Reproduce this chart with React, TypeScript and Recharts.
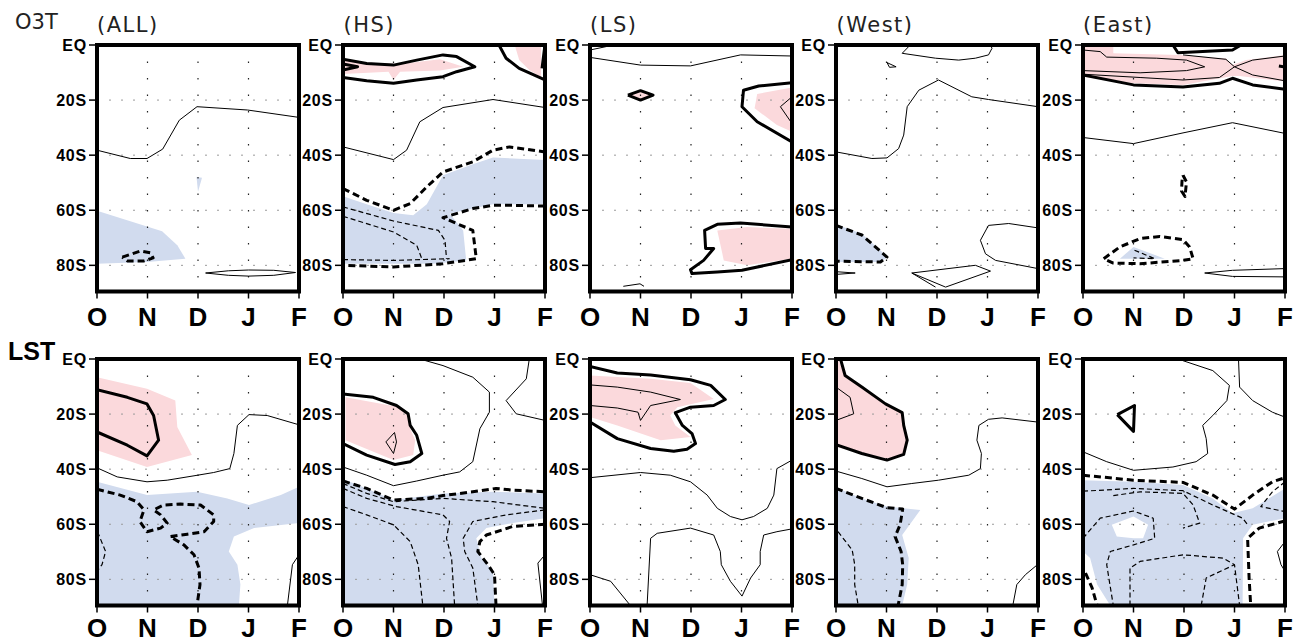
import { CartesianGrid, ReferenceArea, Scatter, ScatterChart, XAxis, YAxis } from 'recharts'

type Pt = [number, number]
type Field = {
  pink?: Pt[][]
  blue?: Pt[][]
  white?: Pt[][]
  thin?: Pt[][]
  thinDash?: Pt[][]
  thick?: Pt[][]
  thickDash?: Pt[][]
}

// x: months after 1 Oct (O=0 ... F=4), y: latitude (negative = south)
const MONTH_TICKS = [0, 1, 2, 3, 4]
const MONTH_LABELS = ['O', 'N', 'D', 'J', 'F']
const LAT_TICKS = [0, -20, -40, -60, -80]
const LAT_LABELS = ['EQ', '20S', '40S', '60S', '80S']
const LAT_MIN = -89.5

const PANEL_TITLES = ['(ALL)', '(HS)', '(LS)', '(West)', '(East)']
const ROW_LABELS = ['O3T', 'LST']

// ---- O3T row ----
const o3tAll: Field = {
  blue: [
    [[0, -60.2], [1.29, -67.6], [1.59, -72.7], [1.75, -77.6], [0.99, -78.8], [0, -79.4]],
    [[1.97, -47.9], [2.08, -48.2], [2.0, -53.3]],
  ],
  thin: [
    [[0, -38.2], [0.66, -41.2], [0.99, -41.2], [1.3, -37.8], [1.63, -27.3], [1.98, -22.4], [2.98, -23.6], [4, -26.3]],
    [[2.15, -82.8], [2.6, -82.0], [3.0, -81.7], [3.5, -81.8], [3.93, -82.6], [3.5, -83.6], [3.0, -83.9], [2.6, -83.6], [2.15, -82.8]],
  ],
  thickDash: [
    [[0.5, -77.0], [0.86, -74.8], [1.06, -75.5], [1.11, -77.3], [0.93, -78.4], [0.6, -78.4], [0.5, -77.0]],
  ],
}

const o3tHS: Field = {
  pink: [
    [[0, -4.8], [0.47, -6.4], [1.13, -6.9], [1.92, -5.2], [2.38, -7.9], [1.92, -9.3], [1.13, -9.7], [1.0, -12.7], [0.9, -9.7], [0, -10.5]],
    [[3.4, 0], [3.92, 0], [3.92, -11.8], [3.69, -9.1], [3.49, -5.5]],
  ],
  blue: [
    [[0, -54.9], [0.47, -57.8], [1.0, -61.0], [1.39, -61.8], [1.66, -57.8], [1.98, -47.3], [2.57, -43.3], [2.97, -40.8], [4, -41.8], [4, -57.8], [2.97, -57.8], [2.11, -61.2], [2.38, -67.3], [2.44, -78.2], [1.79, -79.4], [0, -79.4]],
  ],
  thick: [
    [[0, -5.2], [0.47, -6.7], [1.0, -7.3], [1.46, -5.5], [1.98, -3.6], [2.25, -4.2], [2.61, -7.9], [2.25, -9.7], [1.98, -11.5], [1.46, -12.7], [1.0, -13.9], [0.47, -13.0], [0, -11.8]],
    [[0, -6.9], [0.29, -7.9], [0, -9.1]],
    [[3.09, 0], [3.23, -4.8], [3.49, -8.5], [4, -12.7]],
    [[3.94, -8.5], [4, 0]],
  ],
  thin: [
    [[0, -37.0], [1.0, -41.6], [1.26, -38.2], [1.52, -27.9], [1.98, -22.7], [2.97, -19.8], [4, -22.7]],
  ],
  thickDash: [
    [[0, -52.1], [0.47, -56.4], [1.0, -60.0], [1.33, -57.6], [1.66, -51.5], [1.98, -46.1], [2.57, -42.4], [2.97, -38.2], [3.3, -37.0], [4, -38.8]],
    [[4, -58.5], [3.36, -58.2], [2.97, -58.2], [2.57, -59.4], [1.98, -62.7], [2.57, -67.3], [2.64, -77.6], [1.98, -79.4], [1.0, -80.6], [0, -80.0]],
  ],
  thinDash: [
    [[0, -58.8], [1.0, -63.9], [1.89, -67.3], [2.02, -70.9], [2.05, -77.6]],
    [[0, -62.2], [1.0, -67.9], [1.46, -72.7], [1.56, -77.6]],
    [[0, -77.9], [1.0, -78.2], [2.11, -77.6]],
  ],
}

const o3tLS: Field = {
  pink: [
    [[0.75, -18.2], [1.0, -16.6], [1.25, -18.2], [1.0, -20.0]],
    [[4, -15.4], [3.31, -17.8], [3.26, -23.0], [3.7, -29.1], [4, -31.5]],
    [[4, -66.7], [3.11, -66.1], [2.52, -67.3], [2.65, -78.2], [3.11, -80.0], [4, -77.6]],
  ],
  thin: [
    [[0, -1.8], [0.47, 0]],
    [[0, -4.5], [1.0, -7.3], [1.99, -7.6], [2.98, -3.6], [4, -4.0]],
    [[4, -18.8], [3.77, -22.4], [4, -28.5]],
    [[0.66, -87.6], [0.99, -86.7], [1.07, -87.6]],
  ],
  thick: [
    [[0.75, -18.2], [1.0, -16.6], [1.25, -18.2], [1.0, -20.0], [0.75, -18.2]],
    [[4, -13.7], [3.34, -14.9], [3.04, -16.4], [3.01, -22.4], [3.31, -27.9], [4, -35.2]],
    [[4, -66.1], [2.98, -64.6], [2.52, -65.1], [2.27, -67.3], [2.29, -73.9], [2.45, -73.9], [2.25, -78.2], [1.99, -81.6], [2.02, -83.0], [2.52, -82.4], [3.01, -81.8], [4, -77.9]],
  ],
}

const o3tWest: Field = {
  blue: [[[0, -65.1], [0.51, -68.5], [1.03, -77.0], [0.88, -78.8], [0, -78.8]]],
  thickDash: [[[0, -65.5], [0.51, -69.0], [1.01, -77.0], [0.88, -78.8], [0, -78.5]]],
  thin: [
    [[1.47, 0], [1.31, -3.0], [1.97, -4.8], [2.43, -5.5], [2.76, -4.8], [3.02, -3.6], [3.09, -1.2], [3.06, 0]],
    [[1.01, -6.4], [1.19, -7.9], [1.06, -8.1], [1.01, -6.4]],
    [[0, -38.8], [0.71, -41.2], [1.01, -41.0], [1.24, -37.6], [1.34, -32.7], [1.41, -22.4], [1.64, -16.4], [2.03, -12.7], [2.69, -18.8], [3.02, -19.8], [4, -22.4]],
    [[0, -82.3], [0.38, -82.8], [0, -83.3]],
    [[4, -66.4], [3.42, -64.8], [3.02, -65.5], [2.86, -70.9], [2.96, -75.8], [3.16, -78.2], [4, -81.2]],
    [[1.5, -82.8], [2.76, -80.0], [3.06, -82.1], [2.17, -87.9], [1.5, -82.8], [1.97, -87.9]],
  ],
}

const o3tEast: Field = {
  pink: [
    [[0, 0], [0.6, 0], [0.6, -3.0], [1.91, -3.6], [2.83, -4.8], [2.96, -7.3], [3.23, -5.5], [4, -3.6], [4, -13.3], [3.1, -11.3], [2.96, -11.3], [1.98, -14.5], [1.0, -13.9], [0, -11.5]],
  ],
  blue: [[[0.73, -77.6], [1.0, -73.3], [1.62, -77.6]]],
  thick: [
    [[1.78, 0], [1.88, -2.8], [2.96, -1.8], [3.13, 0]],
    [[0, -10.9], [1.0, -14.5], [1.98, -15.2], [2.7, -13.9], [2.96, -12.1], [3.36, -14.5], [4, -16.1]],
    [[3.88, -7.6], [4, -8.0]],
  ],
  thin: [
    [[0, -1.8], [0.34, -2.4], [0.47, -4.4], [1.46, -4.8], [2.05, -5.5], [2.41, -7.9], [2.05, -9.3], [1.13, -10.1], [0, -9.3]],
    [[0, -10.6], [1.13, -11.8], [1.98, -12.7], [2.7, -11.8], [3.0, -7.9], [3.36, -5.5], [4, -4.0]],
    [[1.98, -3.6], [2.83, -5.2], [3.0, -7.9], [3.36, -10.9], [4, -13.0]],
    [[0, -33.6], [1.0, -35.8], [1.98, -31.9], [2.96, -28.2], [4, -32.1]],
    [[2.41, -82.8], [2.96, -81.8], [4, -81.2]],
    [[2.41, -82.8], [2.96, -84.0], [4, -84.2]],
  ],
  thickDash: [
    [[0.41, -77.6], [0.73, -73.3], [1.13, -70.3], [1.52, -69.5], [1.98, -70.7], [2.11, -73.3], [2.18, -77.6], [1.98, -78.2], [1.13, -79.4], [0.6, -79.2], [0.41, -77.6]],
    [[1.98, -47.3], [2.05, -49.7], [2.02, -55.0], [1.95, -53.0], [1.96, -49.5], [1.98, -47.3]],
  ],
  thinDash: [[[1.02, -74.5], [1.42, -77.6], [1.0, -77.3]]],
}

// ---- LST row ----
const lstAll: Field = {
  pink: [[[0, -6.6], [0.99, -10.8], [1.55, -15.1], [1.59, -24.7], [1.88, -34.9], [0.99, -39.2], [0, -33.1]]],
  blue: [
    [[0, -44.6], [0.99, -49.4], [1.98, -48.2], [2.58, -50.6], [3.01, -53.0], [3.64, -49.4], [4, -46.4], [4, -59.6], [3.11, -61.4], [2.71, -64.5], [2.61, -69.9], [2.78, -74.7], [2.84, -81.9], [2.81, -89.5], [0, -89.5]],
  ],
  thick: [[[0, -11.1], [0.6, -13.9], [0.99, -16.3], [1.12, -20.5], [1.22, -29.5], [0.99, -35.2], [0.6, -31.3], [0, -26.5]]],
  thin: [
    [[0, -39.5], [0.4, -42.8], [0.99, -44.6], [1.39, -44.0], [1.92, -42.4], [2.31, -41.2], [2.63, -39.8], [2.71, -34.3], [2.78, -24.1], [3.01, -20.2], [3.37, -20.5], [4, -23.9]],
    [[4, -71.1], [3.87, -74.7], [3.77, -89.5]],
  ],
  thickDash: [
    [[0, -47.3], [0.46, -49.4], [0.79, -51.8], [0.93, -54.8], [0.85, -59.0], [0.99, -62.7], [1.26, -61.4], [1.39, -59.6], [1.26, -56.6], [1.12, -54.8], [1.32, -53.0], [1.65, -52.7], [2.05, -53.0], [2.31, -56.6], [2.31, -59.0], [2.12, -62.7], [1.79, -63.6], [1.45, -64.5], [1.72, -67.5], [1.92, -71.1], [2.02, -75.9], [2.04, -81.9], [1.98, -89.5]],
  ],
  thinDash: [[[0.01, -62.7], [0.17, -69.9], [0.1, -74.7], [0, -77.1]]],
}

const lstHS: Field = {
  pink: [[[0.05, -13.9], [1.13, -17.5], [1.29, -20.5], [1.33, -25.3], [1.43, -29.5], [1.39, -34.9], [1.0, -36.7], [0.05, -29.5]]],
  blue: [
    [[0, -43.6], [0.47, -47.0], [1.0, -51.2], [1.98, -48.8], [2.97, -48.2], [4, -48.8], [4, -57.8], [3.36, -59.6], [2.84, -61.4], [2.64, -65.1], [2.74, -72.3], [2.97, -77.1], [3.0, -89.5], [0, -89.5]],
  ],
  thick: [[[0, -12.7], [0.6, -13.9], [1.06, -16.9], [1.29, -19.9], [1.33, -24.1], [1.46, -27.7], [1.56, -34.3], [1.33, -37.3], [1.03, -38.3], [0.47, -34.9], [0, -30.7]]],
  thin: [
    [[0.85, -30.1], [1.02, -26.7], [1.06, -30.1], [1.0, -34.3], [0.85, -30.1]],
    [[0, -39.2], [0.47, -42.2], [1.0, -46.0], [1.46, -44.3], [1.98, -42.2], [2.31, -41.0], [2.57, -37.3], [2.71, -25.3], [2.9, -19.3], [2.9, -12.0], [2.57, -6.6], [1.98, -2.4], [1.52, 0]],
    [[3.69, 0], [3.63, -7.2], [3.23, -15.1], [3.43, -19.9], [4, -22.3]],
    [[4, -71.1], [3.86, -74.1], [3.95, -89.5]],
  ],
  thickDash: [
    [[0, -44.3], [0.47, -47.0], [1.0, -51.2], [1.66, -50.6], [1.98, -49.6], [2.57, -48.2], [3.03, -47.0], [3.36, -47.6], [4, -48.2]],
    [[4, -60.0], [3.36, -60.8], [2.84, -63.9], [2.71, -66.3], [2.67, -69.9], [2.87, -74.7], [3.0, -78.3], [3.03, -89.5]],
  ],
  thinDash: [
    [[0, -45.2], [0.47, -48.8], [1.0, -51.8], [1.98, -50.6], [2.97, -51.8], [4, -54.2]],
    [[0, -47.0], [0.47, -50.6], [1.06, -53.6], [1.98, -56.6], [2.11, -59.0], [2.05, -65.1], [2.15, -72.3], [2.21, -89.5]],
    [[0, -53.6], [0.47, -56.6], [1.0, -60.2], [1.33, -66.3], [1.49, -74.7], [1.58, -89.5]],
    [[4, -54.8], [3.23, -56.6], [2.57, -59.0], [2.38, -65.1], [2.41, -69.9], [2.57, -75.9], [2.67, -89.5]],
  ],
}

const lstLS: Field = {
  pink: [[[0, -6.0], [1.2, -7.2], [1.99, -8.7], [2.45, -14.5], [1.73, -17.5], [1.59, -20.5], [1.69, -24.1], [1.99, -28.3], [1.4, -29.5], [0.54, -24.1], [0, -21.1]]],
  thick: [
    [[0, -2.7], [0.54, -5.1], [1.2, -5.8], [1.99, -7.5], [2.39, -9.6], [2.68, -14.7], [2.45, -16.9], [1.99, -17.5], [1.69, -19.5], [1.83, -24.1], [2.02, -27.1], [2.09, -30.7], [1.92, -32.8], [1.66, -33.5], [1.2, -32.5], [0.54, -28.9], [0, -22.9]],
  ],
  thin: [
    [[0, -9.4], [0.54, -10.2], [1.2, -12.0], [1.79, -14.7], [1.2, -16.9], [1.0, -22.3], [0.95, -19.3], [0.54, -17.8], [0, -16.9]],
    [[0, -43.1], [1.0, -41.2], [1.59, -42.2], [1.99, -44.6], [2.32, -49.4], [2.52, -54.2], [2.78, -57.2], [3.01, -58.4], [3.24, -57.2], [3.51, -54.2], [3.64, -49.4], [3.7, -39.8], [4, -36.7]],
    [[1.13, -89.5], [1.2, -65.1], [1.33, -63.3], [1.99, -61.4], [2.45, -63.9], [2.58, -69.9], [2.6, -74.7], [2.78, -80.7], [3.01, -86.1], [3.18, -79.5], [3.37, -74.7], [3.37, -69.9], [3.44, -63.9], [3.7, -62.7], [4, -61.7]],
    [[0, -78.3], [0.41, -80.7], [0.8, -89.5]],
  ],
}

const lstWest: Field = {
  pink: [[[0.04, 0], [0.18, -6.0], [0.51, -10.2], [0.98, -16.3], [1.31, -19.3], [1.41, -29.5], [1.34, -34.9], [1.01, -36.1], [0, -31.9], [0, 0]]],
  blue: [[[0, -46.7], [0.51, -50.6], [1.01, -53.6], [1.67, -54.8], [1.31, -63.9], [1.44, -72.3], [1.41, -81.9], [1.31, -89.5], [0, -89.5]]],
  thick: [[[0.09, 0], [0.18, -6.0], [0.51, -10.2], [0.98, -16.3], [1.31, -19.5], [1.34, -24.1], [1.41, -29.5], [1.34, -34.6], [1.01, -36.7], [0.51, -34.3], [0, -31.1]]],
  thin: [
    [[0, -10.2], [0.28, -13.9], [0.35, -19.9], [0, -22.3]],
    [[0, -40.7], [0.51, -43.4], [1.01, -46.4], [1.5, -45.2], [2.03, -44.0], [2.63, -42.2], [2.86, -39.8], [2.88, -34.3], [2.79, -29.5], [2.83, -24.1], [3.02, -21.9], [3.29, -21.4], [4, -22.9]],
    [[4, -74.5], [3.75, -78.3], [3.58, -81.9], [3.5, -89.5]],
  ],
  thickDash: [[[0, -47.0], [0.51, -50.6], [1.01, -54.0], [1.32, -54.5], [1.27, -60.2], [1.17, -64.5], [1.29, -69.9], [1.32, -74.7], [1.31, -81.9], [1.23, -89.5]]],
  thinDash: [[[0.04, -62.7], [0.32, -69.3], [0.37, -74.7], [0.37, -81.9], [0.44, -89.5]]],
}

const lstEast: Field = {
  blue: [
    [[0, -44.0], [1.0, -44.6], [1.98, -45.8], [2.57, -50.6], [2.96, -56.0], [3.36, -54.2], [4, -47.0], [4, -57.8], [3.36, -60.2], [3.17, -65.1], [3.16, -89.5], [0.54, -89.5], [0.28, -81.9], [0.14, -72.3], [0, -69.9]],
  ],
  white: [[[0.57, -60.2], [1.0, -57.2], [1.29, -60.2], [1.19, -65.1], [1.0, -65.1], [0.67, -64.5]]],
  thick: [[[0.68, -20.2], [1.02, -16.9], [1.0, -26.3], [0.68, -20.2]]],
  thin: [
    [[1.98, -0.6], [2.57, -4.2], [2.9, -9.6], [2.85, -15.1], [2.57, -20.5], [2.37, -24.1], [2.44, -28.9], [2.47, -34.3], [2.24, -37.3], [1.78, -39.2], [1.0, -40.4], [0.47, -37.3], [0, -33.7]],
    [[3.08, 0], [3.1, -10.2], [3.36, -15.1], [3.75, -19.3], [4, -21.1]],
    [[4, -66.3], [3.85, -69.9], [3.92, -74.7], [4, -77.1]],
  ],
  thickDash: [
    [[0, -42.2], [1.0, -44.0], [1.98, -44.8], [2.57, -49.4], [3.0, -54.5], [3.36, -49.4], [3.75, -44.6], [4, -43.1]],
    [[4, -58.8], [3.49, -61.4], [3.26, -65.1], [3.29, -79.5], [3.32, -89.5]],
    [[0.05, -77.7], [0.18, -83.1], [0.28, -89.5]],
  ],
  thinDash: [
    [[0, -48.0], [1.0, -47.0], [1.98, -47.8], [2.57, -53.0], [3.16, -57.8], [3.26, -60.2]],
    [[0.6, -49.6], [1.13, -48.2], [1.98, -48.8], [2.18, -53.0], [2.31, -59.6], [1.98, -61.4]],
    [[0, -65.1], [0.34, -57.8], [1.0, -55.2], [1.39, -57.8], [1.42, -65.1], [1.0, -67.5], [0.54, -69.9], [0.47, -74.7], [0.6, -89.5]],
    [[0.93, -89.5], [0.93, -75.9], [1.13, -73.5], [1.98, -71.1], [2.77, -72.3], [3.0, -74.7], [3.1, -89.5]],
    [[2.34, -89.5], [2.44, -79.5], [3.0, -74.7]],
    [[4, -44.6], [3.75, -48.2], [3.52, -53.6], [4, -55.4]],
  ],
}

const ROWS: Field[][] = [
  [o3tAll, o3tHS, o3tLS, o3tWest, o3tEast],
  [lstAll, lstHS, lstLS, lstWest, lstEast],
]

// layout / styling
const PLOT_LEFT = 96.5
const PANEL_STEP = 246.5
const PLOT_W = 202
const PLOT_H = 246.5
const ROW_TOP = [45, 358.5]
const ROW_TICK_GAP = [9, 6]
const Y_AXIS_W = 60
const X_AXIS_H = 48
const M_TOP = 20
const M_RIGHT = 20

const FILLS: { key: keyof Field; color: string }[] = [
  { key: 'pink', color: '#fbd9dc' },
  { key: 'blue', color: '#d1dbee' },
  { key: 'white', color: '#ffffff' },
]
const CONTOURS: { key: keyof Field; width: number; dash?: string }[] = [
  { key: 'thin', width: 1 },
  { key: 'thinDash', width: 1.2, dash: '5 3' },
  { key: 'thick', width: 3 },
  { key: 'thickDash', width: 3, dash: '7 4' },
]

const noDot = () => <g />
const toXY = (pts: Pt[]) => pts.map(([x, y]) => ({ x, y }))
const pathD = (points: { x: number; y: number }[] = [], closed = false) =>
  points.map((p, i) => `${i ? 'L' : 'M'}${p.x.toFixed(1)},${p.y.toFixed(1)}`).join('') + (closed ? 'Z' : '')

function Panel({ field, tickGap }: { field: Field; tickGap: number }) {
  return (
    <ScatterChart
      width={Y_AXIS_W + PLOT_W + M_RIGHT}
      height={M_TOP + PLOT_H + X_AXIS_H}
      margin={{ top: M_TOP, right: M_RIGHT, left: 0, bottom: 0 }}
    >
      <XAxis
        type="number"
        dataKey="x"
        domain={[0, 4]}
        ticks={MONTH_TICKS}
        interval={0}
        allowDataOverflow
        height={X_AXIS_H}
        tickFormatter={(v) => MONTH_LABELS[Number(v)] ?? ''}
        axisLine={false}
        tickLine={{ stroke: '#000', strokeWidth: 1.5 }}
        tickSize={7}
        tickMargin={tickGap}
        tick={{ fill: '#000', fontSize: 26, fontWeight: 700, fontFamily: 'Liberation Sans, Arial, sans-serif' }}
      />
      <YAxis
        type="number"
        dataKey="y"
        domain={[LAT_MIN, 0]}
        ticks={LAT_TICKS}
        interval={0}
        allowDataOverflow
        width={Y_AXIS_W}
        tickFormatter={(v) => LAT_LABELS[LAT_TICKS.indexOf(Number(v))] ?? ''}
        axisLine={false}
        tickLine={{ stroke: '#000', strokeWidth: 1.5 }}
        tickSize={8}
        tickMargin={2}
        tick={{ fill: '#000', fontSize: 16, fontWeight: 700, fontFamily: 'Liberation Sans, Arial, sans-serif', letterSpacing: 0.8 }}
      />
      {FILLS.map((f) =>
        (field[f.key] ?? []).map((pts, i) => (
          <Scatter
            key={`${f.key}${i}`}
            data={toXY(pts)}
            shape={noDot}
            isAnimationActive={false}
            zIndex={10}
            line={(p: any) => <path d={pathD(p.points, true)} fill={f.color} stroke="none" />}
          />
        )),
      )}
      <CartesianGrid vertical={false} stroke="#9a9a9a" strokeDasharray="2 10" zIndex={20} />
      <CartesianGrid horizontal={false} stroke="#222" strokeWidth={1.2} strokeDasharray="1.5 15" zIndex={20} />
      {CONTOURS.map((c) =>
        (field[c.key] ?? []).map((pts, i) => (
          <Scatter
            key={`${c.key}${i}`}
            data={toXY(pts)}
            shape={noDot}
            isAnimationActive={false}
            line={(p: any) => (
              <path
                d={pathD(p.points)}
                fill="none"
                stroke="#000"
                strokeWidth={c.width}
                strokeDasharray={c.dash}
                strokeLinejoin="round"
              />
            )}
          />
        )),
      )}
      <ReferenceArea x1={0} x2={4} y1={LAT_MIN} y2={0} fill="none" stroke="#000" strokeWidth={4} ifOverflow="visible" zIndex={1000} />
    </ScatterChart>
  )
}

export default function App() {
  return (
    <div style={{ position: 'absolute', left: 0, top: 0, width: 1294, height: 643, background: '#fff', overflow: 'hidden' }}>
      <svg width={1294} height={643} style={{ position: 'absolute', left: 0, top: 0 }}>
        {PANEL_TITLES.map((t, i) => (
          <text
            key={t}
            x={PLOT_LEFT + i * PANEL_STEP + 0.5}
            y={32}
            fontFamily="DejaVu Sans, sans-serif"
            fontSize={21}
            letterSpacing={1.5}
            fill="#222"
          >
            {t}
          </text>
        ))}
        <text x={15} y={28.5} fontFamily="DejaVu Sans, sans-serif" fontSize={21} fill="#222">
          {ROW_LABELS[0]}
        </text>
        <text x={8} y={360} fontFamily="Liberation Sans, Arial, sans-serif" fontSize={25} fontWeight={700} fill="#000">
          {ROW_LABELS[1]}
        </text>
      </svg>
      {ROWS.map((row, r) =>
        row.map((field, c) => (
          <div
            key={`${r}-${c}`}
            style={{
              position: 'absolute',
              left: PLOT_LEFT + c * PANEL_STEP - Y_AXIS_W,
              top: ROW_TOP[r] - M_TOP,
            }}
          >
            <Panel field={field} tickGap={ROW_TICK_GAP[r]} />
          </div>
        )),
      )}
    </div>
  )
}
